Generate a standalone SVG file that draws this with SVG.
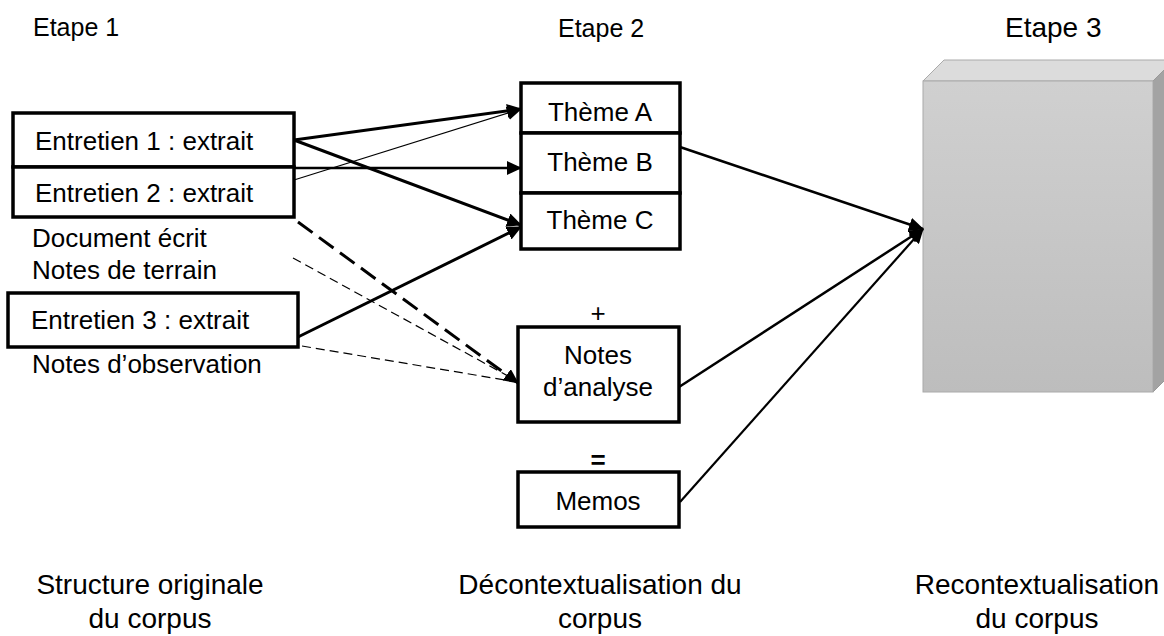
<svg xmlns="http://www.w3.org/2000/svg" width="1164" height="636" viewBox="0 0 1164 636">
<style>
text{font-family:"Liberation Sans",Arial,sans-serif;fill:#000}
.t{font-size:26px}
.b{font-size:28px;text-anchor:middle}
.box{fill:#fff;stroke:#000;stroke-width:3.5}
.c{fill:none;stroke:#000}
</style>
<defs>
<marker id="ah" markerUnits="userSpaceOnUse" markerWidth="16" markerHeight="14" refX="14" refY="7" orient="auto" viewBox="0 0 16 14">
<path d="M0,0 L15,7 L0,14 Z" fill="#000"/>
</marker>
<linearGradient id="fg" x1="0" y1="0" x2="0" y2="1">
<stop offset="0" stop-color="#d0d0d0"/>
<stop offset="1" stop-color="#bdbdbd"/>
</linearGradient>
</defs>
<rect width="1164" height="636" fill="#fff"/>

<g id="titles">
<text x="33" y="36" font-size="25">Etape 1</text>
<text x="558" y="37" font-size="25">Etape 2</text>
<text x="1005" y="37" font-size="28">Etape 3</text>
</g>

<g id="recontext-block">
<polygon points="923,81 944,60 1174,60 1153,81" fill="#dcdcdc" stroke="#aaa" stroke-width="1"/>
<polygon points="1153,81 1174,60 1174,371 1153,392" fill="#a3a3a3" stroke="#999" stroke-width="1"/>
<rect x="923" y="81" width="230" height="311" fill="url(#fg)" stroke="#aaa" stroke-width="1"/>
</g>

<g id="connectors">
<line class="c" x1="294" y1="140" x2="521" y2="109" stroke-width="3" marker-end="url(#ah)"/>
<line class="c" x1="294" y1="180" x2="521" y2="109" stroke-width="1.2" marker-end="url(#ah)"/>
<line class="c" x1="294" y1="168" x2="521" y2="168" stroke-width="2.5" marker-end="url(#ah)"/>
<line class="c" x1="294" y1="140" x2="521" y2="225" stroke-width="3" marker-end="url(#ah)"/>
<line class="c" x1="298" y1="337" x2="521" y2="227" stroke-width="3" marker-end="url(#ah)"/>
<line class="c" x1="298" y1="222" x2="518" y2="383" stroke-width="3" stroke-dasharray="18,8" marker-end="url(#ah)"/>
<line class="c" x1="293" y1="258" x2="517" y2="381" stroke-width="1.2" stroke-dasharray="9,5"/>
<line class="c" x1="302" y1="346" x2="517" y2="382" stroke-width="1.2" stroke-dasharray="9,5"/>
<line class="c" x1="680" y1="147" x2="923" y2="229" stroke-width="2.5" marker-end="url(#ah)"/>
<line class="c" x1="679" y1="387" x2="923" y2="229" stroke-width="2.5" marker-end="url(#ah)"/>
<line class="c" x1="680" y1="502" x2="923" y2="229" stroke-width="2.2" marker-end="url(#ah)"/>
</g>

<g id="entretien1">
<rect class="box" x="13" y="113" width="281" height="54"/>
<text class="t" x="35" y="150">Entretien 1 : extrait</text>
</g>
<g id="entretien2">
<rect class="box" x="13" y="167" width="281" height="50"/>
<text class="t" x="35" y="202">Entretien 2 : extrait</text>
</g>
<g id="document-ecrit">
<text class="t" x="32" y="247">Document écrit</text>
</g>
<g id="notes-terrain">
<text class="t" x="32" y="279">Notes de terrain</text>
</g>
<g id="entretien3">
<rect class="box" x="8" y="293" width="290" height="54"/>
<text class="t" x="31" y="329">Entretien 3 : extrait</text>
</g>
<g id="notes-observation">
<text class="t" x="32" y="373">Notes d’observation</text>
</g>

<g id="theme-a">
<rect class="box" x="521" y="83" width="159" height="50"/>
<text class="t" x="600" y="121" text-anchor="middle">Thème A</text>
</g>
<g id="theme-b">
<rect class="box" x="521" y="133" width="159" height="60"/>
<text class="t" x="600" y="171" text-anchor="middle">Thème B</text>
</g>
<g id="theme-c">
<rect class="box" x="521" y="193" width="159" height="56"/>
<text class="t" x="600" y="229" text-anchor="middle">Thème C</text>
</g>

<g id="plus"><text class="t" x="598" y="322" text-anchor="middle">+</text></g>
<g id="notes-analyse">
<rect class="box" x="518" y="327" width="161" height="95"/>
<text class="t" x="598" y="364" text-anchor="middle">Notes</text>
<text class="t" x="598" y="396" text-anchor="middle">d’analyse</text>
</g>
<g id="equals"><text class="t" x="598" y="469" text-anchor="middle" font-weight="bold">=</text></g>
<g id="memos">
<rect class="box" x="518" y="472" width="161" height="55"/>
<text class="t" x="598" y="510" text-anchor="middle">Memos</text>
</g>

<g id="captions">
<text class="b" x="150" y="594">Structure originale</text>
<text class="b" x="150" y="628">du corpus</text>
<text class="b" x="600" y="594">Décontextualisation du</text>
<text class="b" x="600" y="628">corpus</text>
<text class="b" x="1037" y="594">Recontextualisation</text>
<text class="b" x="1037" y="628">du corpus</text>
</g>
</svg>
